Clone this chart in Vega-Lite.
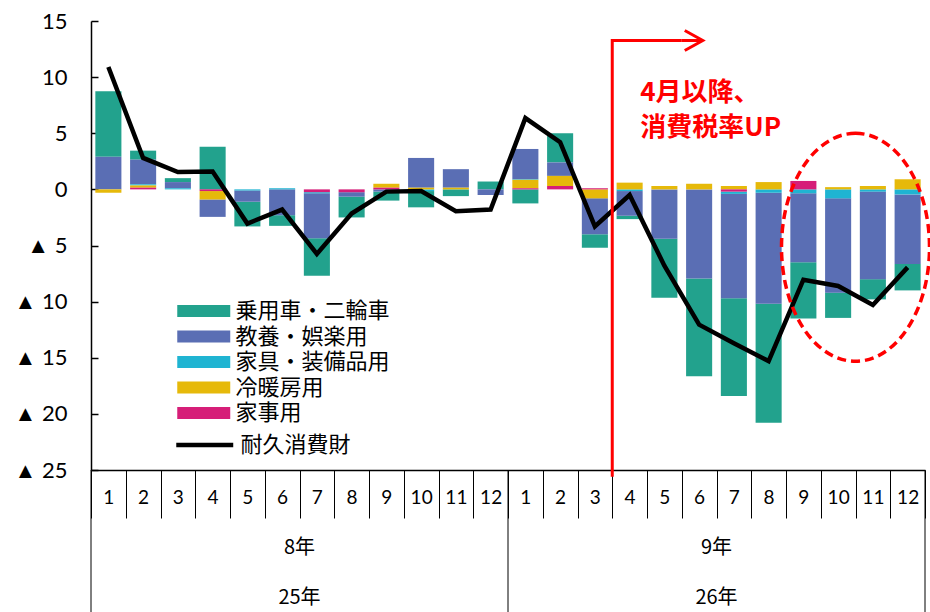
{
  "$schema": "https://vega.github.io/schema/vega-lite/v6.json",
  "width": 834,
  "height": 449,
  "autosize": "none",
  "padding": {"left": 91, "top": 21, "right": 5, "bottom": 142},
  "background": "white",
  "config": {"view": {"stroke": null}, "font": "Noto Sans CJK JP"},
  "datasets": {
    "bars": [
      {"m": "25-1", "cat": "乗用車・二輪車", "o": 5, "v": 5.85},
      {"m": "25-1", "cat": "教養・娯楽用", "o": 4, "v": 2.9},
      {"m": "25-1", "cat": "冷暖房用", "o": 2, "v": -0.3},
      {"m": "25-2", "cat": "乗用車・二輪車", "o": 5, "v": 0.8},
      {"m": "25-2", "cat": "教養・娯楽用", "o": 4, "v": 2.2},
      {"m": "25-2", "cat": "家具・装備品用", "o": 3, "v": 0.1},
      {"m": "25-2", "cat": "冷暖房用", "o": 2, "v": 0.2},
      {"m": "25-2", "cat": "家事用", "o": 1, "v": 0.15},
      {"m": "25-3", "cat": "乗用車・二輪車", "o": 5, "v": 0.35},
      {"m": "25-3", "cat": "教養・娯楽用", "o": 4, "v": 0.55},
      {"m": "25-3", "cat": "家具・装備品用", "o": 3, "v": 0.1},
      {"m": "25-4", "cat": "乗用車・二輪車", "o": 5, "v": 3.8},
      {"m": "25-4", "cat": "教養・娯楽用", "o": 4, "v": -1.55},
      {"m": "25-4", "cat": "冷暖房用", "o": 2, "v": -0.75},
      {"m": "25-4", "cat": "家事用", "o": 1, "v": -0.15},
      {"m": "25-5", "cat": "乗用車・二輪車", "o": 5, "v": -2.2},
      {"m": "25-5", "cat": "教養・娯楽用", "o": 4, "v": -1.0},
      {"m": "25-5", "cat": "家具・装備品用", "o": 3, "v": -0.1},
      {"m": "25-6", "cat": "乗用車・二輪車", "o": 5, "v": -0.95},
      {"m": "25-6", "cat": "教養・娯楽用", "o": 4, "v": -2.3},
      {"m": "25-6", "cat": "家具・装備品用", "o": 3, "v": 0.1},
      {"m": "25-7", "cat": "乗用車・二輪車", "o": 5, "v": -3.35},
      {"m": "25-7", "cat": "教養・娯楽用", "o": 4, "v": -4.0},
      {"m": "25-7", "cat": "家具・装備品用", "o": 3, "v": -0.1},
      {"m": "25-7", "cat": "家事用", "o": 1, "v": -0.25},
      {"m": "25-8", "cat": "乗用車・二輪車", "o": 5, "v": -1.85},
      {"m": "25-8", "cat": "教養・娯楽用", "o": 4, "v": -0.4},
      {"m": "25-8", "cat": "家事用", "o": 1, "v": -0.25},
      {"m": "25-9", "cat": "乗用車・二輪車", "o": 5, "v": -0.8},
      {"m": "25-9", "cat": "教養・娯楽用", "o": 4, "v": -0.2},
      {"m": "25-9", "cat": "冷暖房用", "o": 2, "v": 0.35},
      {"m": "25-9", "cat": "家事用", "o": 1, "v": 0.15},
      {"m": "25-10", "cat": "乗用車・二輪車", "o": 5, "v": -1.45},
      {"m": "25-10", "cat": "教養・娯楽用", "o": 4, "v": 2.65},
      {"m": "25-10", "cat": "家具・装備品用", "o": 3, "v": -0.15},
      {"m": "25-10", "cat": "冷暖房用", "o": 2, "v": 0.15},
      {"m": "25-11", "cat": "乗用車・二輪車", "o": 5, "v": -0.6},
      {"m": "25-11", "cat": "教養・娯楽用", "o": 4, "v": 1.65},
      {"m": "25-11", "cat": "冷暖房用", "o": 2, "v": 0.15},
      {"m": "25-12", "cat": "乗用車・二輪車", "o": 5, "v": 0.7},
      {"m": "25-12", "cat": "教養・娯楽用", "o": 4, "v": -0.5},
      {"m": "26-1", "cat": "乗用車・二輪車", "o": 5, "v": -1.25},
      {"m": "26-1", "cat": "教養・娯楽用", "o": 4, "v": 2.7},
      {"m": "26-1", "cat": "家具・装備品用", "o": 3, "v": 0.05},
      {"m": "26-1", "cat": "冷暖房用", "o": 2, "v": 0.75},
      {"m": "26-1", "cat": "家事用", "o": 1, "v": 0.1},
      {"m": "26-2", "cat": "乗用車・二輪車", "o": 5, "v": 2.6},
      {"m": "26-2", "cat": "教養・娯楽用", "o": 4, "v": 1.2},
      {"m": "26-2", "cat": "冷暖房用", "o": 2, "v": 0.9},
      {"m": "26-2", "cat": "家事用", "o": 1, "v": 0.3},
      {"m": "26-3", "cat": "乗用車・二輪車", "o": 5, "v": -1.2},
      {"m": "26-3", "cat": "教養・娯楽用", "o": 4, "v": -3.2},
      {"m": "26-3", "cat": "冷暖房用", "o": 2, "v": -0.8},
      {"m": "26-3", "cat": "家事用", "o": 1, "v": 0.1},
      {"m": "26-4", "cat": "乗用車・二輪車", "o": 5, "v": -0.3},
      {"m": "26-4", "cat": "教養・娯楽用", "o": 4, "v": -2.2},
      {"m": "26-4", "cat": "家具・装備品用", "o": 3, "v": -0.15},
      {"m": "26-4", "cat": "冷暖房用", "o": 2, "v": 0.6},
      {"m": "26-5", "cat": "乗用車・二輪車", "o": 5, "v": -5.25},
      {"m": "26-5", "cat": "教養・娯楽用", "o": 4, "v": -4.4},
      {"m": "26-5", "cat": "冷暖房用", "o": 2, "v": 0.3},
      {"m": "26-6", "cat": "乗用車・二輪車", "o": 5, "v": -8.7},
      {"m": "26-6", "cat": "教養・娯楽用", "o": 4, "v": -7.95},
      {"m": "26-6", "cat": "冷暖房用", "o": 2, "v": 0.5},
      {"m": "26-7", "cat": "乗用車・二輪車", "o": 5, "v": -8.7},
      {"m": "26-7", "cat": "教養・娯楽用", "o": 4, "v": -9.3},
      {"m": "26-7", "cat": "家具・装備品用", "o": 3, "v": -0.2},
      {"m": "26-7", "cat": "冷暖房用", "o": 2, "v": 0.3},
      {"m": "26-7", "cat": "家事用", "o": 1, "v": -0.2},
      {"m": "26-8", "cat": "乗用車・二輪車", "o": 5, "v": -10.6},
      {"m": "26-8", "cat": "教養・娯楽用", "o": 4, "v": -9.9},
      {"m": "26-8", "cat": "家具・装備品用", "o": 3, "v": -0.3},
      {"m": "26-8", "cat": "冷暖房用", "o": 2, "v": 0.65},
      {"m": "26-9", "cat": "乗用車・二輪車", "o": 5, "v": -5.0},
      {"m": "26-9", "cat": "教養・娯楽用", "o": 4, "v": -6.15},
      {"m": "26-9", "cat": "家具・装備品用", "o": 3, "v": -0.35},
      {"m": "26-9", "cat": "家事用", "o": 1, "v": 0.75},
      {"m": "26-10", "cat": "乗用車・二輪車", "o": 5, "v": -2.25},
      {"m": "26-10", "cat": "教養・娯楽用", "o": 4, "v": -8.4},
      {"m": "26-10", "cat": "家具・装備品用", "o": 3, "v": -0.8},
      {"m": "26-10", "cat": "冷暖房用", "o": 2, "v": 0.2},
      {"m": "26-11", "cat": "乗用車・二輪車", "o": 5, "v": -1.8},
      {"m": "26-11", "cat": "教養・娯楽用", "o": 4, "v": -7.8},
      {"m": "26-11", "cat": "家具・装備品用", "o": 3, "v": -0.2},
      {"m": "26-11", "cat": "冷暖房用", "o": 2, "v": 0.3},
      {"m": "26-12", "cat": "乗用車・二輪車", "o": 5, "v": -2.35},
      {"m": "26-12", "cat": "教養・娯楽用", "o": 4, "v": -6.2},
      {"m": "26-12", "cat": "家具・装備品用", "o": 3, "v": -0.45},
      {"m": "26-12", "cat": "冷暖房用", "o": 2, "v": 0.9}
    ],
    "line": [
      {"m": "25-1", "total": 10.9}, {"m": "25-2", "total": 2.8}, {"m": "25-3", "total": 1.55},
      {"m": "25-4", "total": 1.6}, {"m": "25-5", "total": -3.05}, {"m": "25-6", "total": -1.8},
      {"m": "25-7", "total": -5.75}, {"m": "25-8", "total": -2.15}, {"m": "25-9", "total": -0.2},
      {"m": "25-10", "total": -0.15}, {"m": "25-11", "total": -1.95}, {"m": "25-12", "total": -1.8},
      {"m": "26-1", "total": 6.35}, {"m": "26-2", "total": 4.2}, {"m": "26-3", "total": -3.3},
      {"m": "26-4", "total": -0.5}, {"m": "26-5", "total": -6.8}, {"m": "26-6", "total": -12.05},
      {"m": "26-7", "total": -13.7}, {"m": "26-8", "total": -15.3}, {"m": "26-9", "total": -8.05},
      {"m": "26-10", "total": -8.6}, {"m": "26-11", "total": -10.3}, {"m": "26-12", "total": -6.95}
    ]
  },
  "layer": [
    {
      "data": {"name": "bars"},
      "mark": {"type": "bar", "width": {"band": 0.75}},
      "encoding": {
        "x": {
          "field": "m", "type": "ordinal", "title": null,
          "scale": {"domain": ["25-1","25-2","25-3","25-4","25-5","25-6","25-7","25-8","25-9","25-10","25-11","25-12","26-1","26-2","26-3","26-4","26-5","26-6","26-7","26-8","26-9","26-10","26-11","26-12"], "paddingInner": 0, "paddingOuter": 0},
          "axis": {"labelExpr": "split(datum.value, '-')[1]", "labelAngle": 0, "tickBand": "extent", "tickSize": 48, "tickColor": "black", "tickWidth": 1, "domainColor": "black", "domainWidth": 1.5, "labelFont": "Lato", "labelFontSize": 19, "labelColor": "black", "labelPadding": -30}
        },
        "y": {
          "field": "v", "type": "quantitative", "title": null, "stack": "zero",
          "scale": {"domain": [-25, 15], "nice": false, "zero": false},
          "axis": {"values": [-25,-20,-15,-10,-5,0,5,10,15], "labelExpr": "datum.value < 0 ? '▲ ' + abs(datum.value) : '' + datum.value", "grid": false, "domainColor": "black", "domainWidth": 1.5, "tickColor": "black", "tickWidth": 1.5, "tickSize": -7, "labelFont": "Lato", "labelFontSize": 22, "labelColor": "black", "labelPadding": 31}
        },
        "color": {
          "field": "cat", "type": "nominal",
          "scale": {"domain": ["乗用車・二輪車", "教養・娯楽用", "家具・装備品用", "冷暖房用", "家事用"], "range": ["#22a28d", "#5a6eb4", "#1fb4d2", "#e6b90a", "#d61e78"]},
          "legend": {"orient": "none", "legendX": 99.25, "legendY": 276.5, "title": null, "symbolType": "M-2,-0.46L2,-0.46L2,0.46L-2,0.46Z", "symbolSize": 702, "symbolStrokeWidth": 0, "labelFont": "Noto Sans CJK JP", "labelFontSize": 22, "labelColor": "black", "rowPadding": 0.5, "labelOffset": 18.25, "padding": 0, "labelLimit": 400}
        },
        "order": {"field": "o", "type": "quantitative"}
      }
    },
    {
      "mark": {"type": "rule", "color": "black", "strokeWidth": 1.5},
      "encoding": {"y": {"datum": 0}}
    },
    {
      "data": {"name": "line"},
      "mark": {"type": "line", "strokeWidth": 4.5},
      "encoding": {
        "x": {"field": "m", "type": "ordinal", "title": null},
        "y": {"field": "total", "type": "quantitative", "title": null},
        "stroke": {"datum": "耐久消費財", "type": "nominal", "scale": {"range": ["black"]},
          "legend": {"orient": "none", "legendX": 98.25, "legendY": 408.5, "title": null, "symbolType": "M-2.15,0L2.15,0", "symbolSize": 702, "symbolStrokeWidth": 4.5, "labelFont": "Noto Sans CJK JP", "labelFontSize": 22, "labelColor": "black", "labelOffset": 20.25, "padding": 0, "labelLimit": 400}}
      }
    },
    {
      "data": {"values": [{"m": "26-4", "v": -25.6, "o": 1}, {"m": "26-4", "v": 13.26, "o": 2}, {"m": "26-6", "v": 13.26, "o": 3}]},
      "mark": {"type": "line", "color": "#ff0000", "strokeWidth": 3},
      "encoding": {
        "x": {"field": "m", "type": "ordinal", "bandPosition": 0, "title": null},
        "y": {"field": "v", "type": "quantitative", "title": null},
        "order": {"field": "o", "type": "quantitative"}
      }
    },
    {
      "data": {"values": [{"m": "26-6", "v": 13.26}]},
      "mark": {"type": "point", "shape": "M0,0L21,0M3,-10L21,0L3,10", "size": 4, "filled": false, "stroke": "#ff0000", "strokeWidth": 3, "opacity": 1},
      "encoding": {
        "x": {"field": "m", "type": "ordinal", "bandPosition": 0, "title": null},
        "y": {"field": "v", "type": "quantitative", "title": null}
      }
    },
    {
      "data": {"values": [{"m": "26-4", "v": 8.63, "t": "4月以降、"}, {"m": "26-4", "v": 5.43, "t": "消費税率UP"}]},
      "mark": {"type": "text", "align": "left", "baseline": "middle", "dx": 28, "font": "Noto Sans CJK JP", "fontSize": 26, "fontWeight": "bold", "color": "#ff0000"},
      "encoding": {
        "x": {"field": "m", "type": "ordinal", "bandPosition": 0, "title": null},
        "y": {"field": "v", "type": "quantitative", "title": null},
        "text": {"field": "t"}
      }
    },
    {
      "data": {"values": [{"m": "26-11", "v": -5.16}]},
      "mark": {"type": "point", "shape": "M0,-114C40.87,-114 74,-62.96 74,0C74,62.96 40.87,114 0,114C-40.87,114 -74,62.96 -74,0C-74,-62.96 -40.87,-114 0,-114Z", "size": 4, "filled": false, "stroke": "#ff0000", "strokeWidth": 3.5, "strokeDash": [9, 5], "opacity": 1},
      "encoding": {
        "x": {"field": "m", "type": "ordinal", "bandPosition": 0, "title": null},
        "y": {"field": "v", "type": "quantitative", "title": null}
      }
    },
    {
      "data": {"values": [{"m": "25-7", "v": -31.94, "t": "8年"}, {"m": "26-7", "v": -31.94, "t": "9年"}, {"m": "25-7", "v": -36.39, "t": "25年"}, {"m": "26-7", "v": -36.39, "t": "26年"}]},
      "mark": {"type": "text", "align": "center", "baseline": "middle", "font": "Noto Sans CJK JP", "fontSize": 20, "color": "black"},
      "encoding": {
        "x": {"field": "m", "type": "ordinal", "bandPosition": 0, "title": null},
        "y": {"field": "v", "type": "quantitative", "title": null},
        "text": {"field": "t"}
      }
    },
    {
      "data": {"values": [{"m": "25-1"}, {"m": "26-1"}]},
      "mark": {"type": "rule", "color": "black", "strokeWidth": 1},
      "encoding": {
        "x": {"field": "m", "type": "ordinal", "bandPosition": 0, "title": null},
        "y": {"datum": -25},
        "y2": {"datum": -38}
      }
    },
    {
      "data": {"values": [{"m": "26-12"}]},
      "mark": {"type": "rule", "color": "black", "strokeWidth": 1},
      "encoding": {
        "x": {"field": "m", "type": "ordinal", "bandPosition": 1, "title": null},
        "y": {"datum": -25},
        "y2": {"datum": -38}
      }
    }
  ]
}
